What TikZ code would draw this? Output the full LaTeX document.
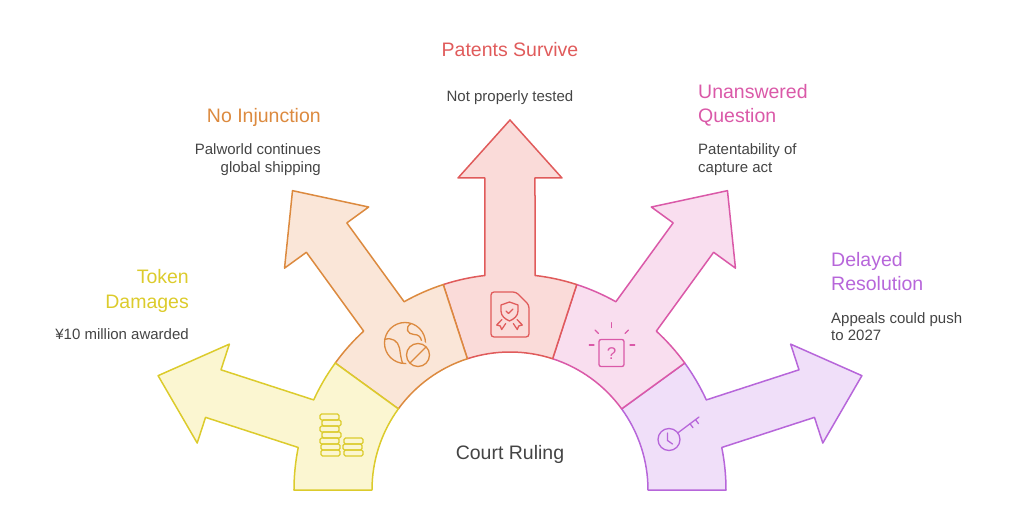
\documentclass[tikz,border=0pt]{standalone}
\usepackage{fontspec}
\setmainfont{Liberation Sans}
\definecolor{yS}{HTML}{DCCB2C}\definecolor{yF}{HTML}{FBF6D1}
\definecolor{oS}{HTML}{DC8A3F}\definecolor{oF}{HTML}{FAE6D8}
\definecolor{rS}{HTML}{E05B5B}\definecolor{rF}{HTML}{FADBD9}
\definecolor{pS}{HTML}{DA59A8}\definecolor{pF}{HTML}{F9DEEF}
\definecolor{vS}{HTML}{B766DA}\definecolor{vF}{HTML}{F0DFF9}
\definecolor{txt}{HTML}{444444}
\newcommand\sectarrow[4]{%
  \draw[seg, draw=#2, fill=#3, rotate=#1] (-18:138) coordinate (#4a) -- (-18:216)
    arc[start angle=-18,end angle=-6.65,radius=216pt] -- (312,-25) -- (312,-52)
    -- (370,0) coordinate (#4) -- (312,52) -- (312,25) -- (6.65:216)
    arc[start angle=6.65,end angle=18,radius=216pt] -- (18:138)
    arc[start angle=18,end angle=-18,radius=138pt] -- cycle;}
\begin{document}
\begin{tikzpicture}[x=1pt,y=1pt,
  seg/.style={line width=1.5pt, line join=round},
  icon/.style={line width=1.3pt, line join=round, line cap=round},
  ttl/.style={inner sep=0pt, font=\fontsize{19.5}{23}\selectfont},
  dsc/.style={inner sep=0pt, text=txt, font=\fontsize{15}{18}\selectfont}]
\useasboundingbox (-510,-33) rectangle (511,490);
% sectors with arrows (drawn right to left)
\sectarrow{18}{vS}{vF}{tipv}
\sectarrow{54}{pS}{pF}{tipp}
\sectarrow{90}{rS}{rF}{tipr}
\sectarrow{126}{oS}{oF}{tipo}
\sectarrow{162}{yS}{yF}{tipy}
% centre label
\node[inner sep=0pt, text=txt, font=\fontsize{19.5}{23}\selectfont, anchor=base] (court) at (0,31) {Court Ruling};
% texts
\node[ttl, text=rS, anchor=base] (t3) at (0,433.3) {Patents Survive};
\node[dsc, anchor=base] (d3) at (0,388.3) {Not properly tested};
\node[ttl, text=oS, anchor=base east] (t2) at (-189,367.3) {No Injunction};
\node[dsc, anchor=base east] (d2a) at (-189,335) {Palworld continues};
\node[dsc, anchor=base east] (d2b) at (-189,317) {global shipping};
\node[ttl, text=yS, anchor=base east] (t1a) at (-321,206) {Token};
\node[ttl, text=yS, anchor=base east] (t1b) at (-321,182) {Damages};
\node[dsc, anchor=base east] (d1) at (-321,150) {¥10 million awarded};
\node[ttl, text=pS, anchor=base west] (t4a) at (188,391.7) {Unanswered};
\node[ttl, text=pS, anchor=base west] (t4b) at (188,367.3) {Question};
\node[dsc, anchor=base west] (d4a) at (188,335) {Patentability of};
\node[dsc, anchor=base west] (d4b) at (188,317) {capture act};
\node[ttl, text=vS, anchor=base west] (t5a) at (321,223.3) {Delayed};
\node[ttl, text=vS, anchor=base west] (t5b) at (321,199.3) {Resolution};
\node[dsc, anchor=base west] (d5a) at (321,166.7) {Appeals could push};
\node[dsc, anchor=base west] (d5b) at (321,149.3) {to 2027};
% icons in image coordinates
\begin{scope}[shift={(-510,490)}, yscale=-1]
  % coins
  \begin{scope}[icon, draw=yS, rounded corners=1.5pt]
    \draw (320,414) rectangle (339,420);
    \draw (322,420) rectangle (341,426);
    \draw (320,426) rectangle (339,432);
    \draw (322,432) rectangle (341,438);
    \draw (320,438) rectangle (339,444);
    \draw (321,444) rectangle (340,450);
    \draw (321,450) rectangle (340,456);
    \draw (344,438) rectangle (363,444);
    \draw (343,444) rectangle (362,450);
    \draw (344,450) rectangle (363,456);
  \end{scope}
  % globe with no-sign
  \begin{scope}[icon, draw=oS]
    \draw (405,343) circle (20.5);
    \draw (384.5,339.5) .. controls (392,337) and (398,341) .. (399.5,348) .. controls (400.5,354) and (401,359) .. (402.5,363);
    \draw (411,323.5) .. controls (404,328) and (408,334.5) .. (414,334.5) .. controls (418.5,334.5) and (421,337) .. (421.5,341);
    \fill[oF] (418,355) circle (14.5);
    \draw (418,355) circle (11.5);
    \draw (410,363) -- (426,347);
  \end{scope}
  % certificate
  \begin{scope}[icon, draw=rS]
    \draw[rounded corners=3pt] (491,292) -- (516,292) -- (529,305) -- (529,337) -- (491,337) -- cycle;
    \draw (501,305) -- (509.5,302) -- (518,305) -- (518,311) .. controls (518,316) and (514,319) .. (509.5,321) .. controls (505,319) and (501,316) .. (501,311) -- cycle;
    \draw (506,311) -- (508.5,313.5) -- (513,309);
    \draw (502,319.5) -- (496.7,325) -- (500.3,326) -- (501.7,329.5) -- (505.7,323.5);
    \draw (517,319.5) -- (522.3,325) -- (518.7,326) -- (517.3,329.5) -- (513.3,323.5);
  \end{scope}
  % question box
  \begin{scope}[icon, draw=pS]
    \draw[rounded corners=2pt] (599,339.5) rectangle (624,366.5);
    \draw (611.7,322.7) -- (611.7,327.5);
    \draw (589.3,345) -- (594,345);
    \draw (630,345) -- (634.7,345);
    \draw (595,330) -- (598.5,333.5);
    \draw (628.5,330) -- (625,333.5);
    \node[inner sep=0pt, text=pS, font=\fontsize{17}{20}\selectfont] (qm) at (611.5,353.5) {?};
  \end{scope}
  % clock key
  \begin{scope}[icon, draw=vS]
    \draw (669,439.5) circle (11);
    \draw (667.5,433) -- (667.5,440.5) -- (672.5,444);
    \draw (677.8,432.9) -- (699,417);
    \draw (690,423.7) -- (693,427.7);
    \draw (695.5,419.6) -- (698.5,423.6);
  \end{scope}
\end{scope}
\end{tikzpicture}
\end{document}
